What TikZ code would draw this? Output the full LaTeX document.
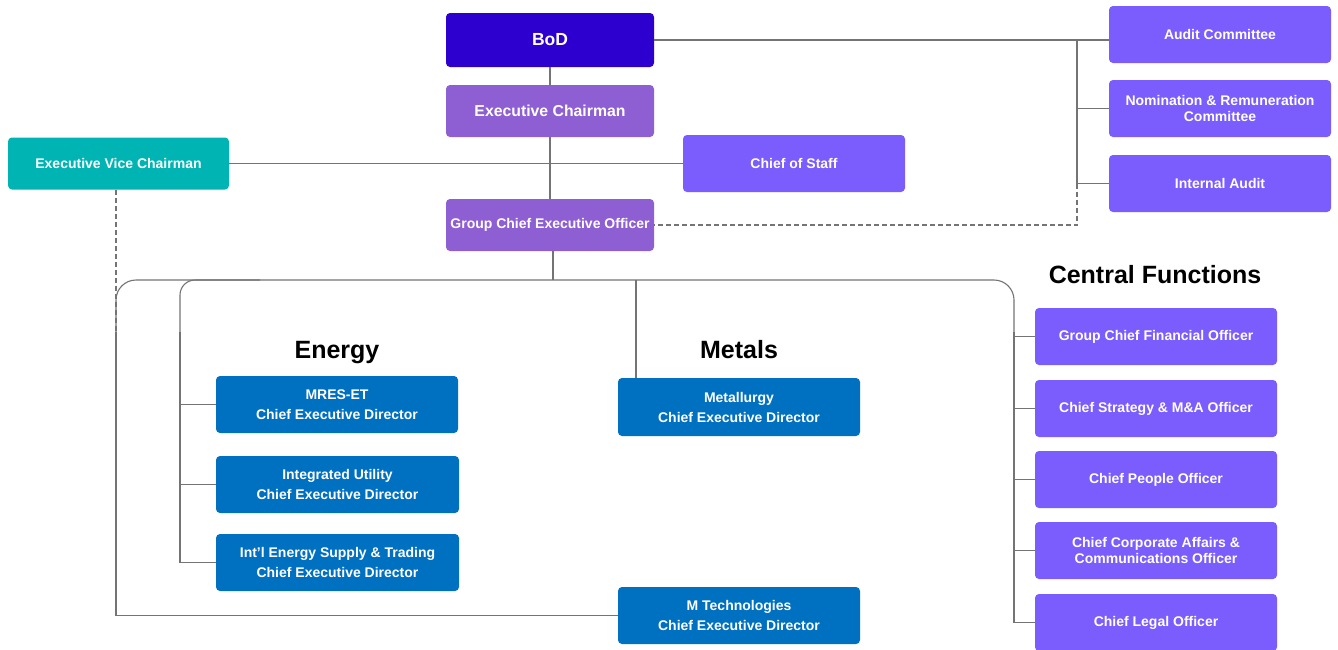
\documentclass[tikz,border=0pt]{standalone}
\usepackage{fontspec}
\setmainfont{Liberation Sans}
\definecolor{bodc}{HTML}{2E00D0}
\definecolor{execc}{HTML}{8E5FD3}
\definecolor{purp}{HTML}{7B5CFC}
\definecolor{tealc}{HTML}{00B4B4}
\definecolor{bluec}{HTML}{0070C0}
\definecolor{linec}{HTML}{747474}
\begin{document}
\begin{tikzpicture}[x=1pt,y=-1pt,
  box/.style={rectangle, rounded corners=4pt, inner sep=0pt, align=center, text=white,
    font=\fontsize{14}{20}\selectfont\bfseries},
  exec/.style={box, fill=execc, minimum width=208pt, minimum height=52pt},
  pbox/.style={box, fill=purp, minimum width=222pt, minimum height=57pt},
  cbox/.style={box, fill=purp, minimum width=242pt, minimum height=57pt},
  bbox/.style={box, fill=bluec, minimum width=242pt, minimum height=57pt},
  title/.style={font=\fontsize{25}{30}\selectfont\bfseries, text=black, inner sep=0pt, anchor=base},
  conn/.style={draw=linec, line width=1.1pt},
  dconn/.style={conn, dash pattern=on 5pt off 3pt}]
\useasboundingbox (0,0) rectangle (1338,649);
\fill[white] (0,0) rectangle (1338,649);

% top
\node[box, fill=bodc, minimum width=208pt, minimum height=54pt, font=\fontsize{17.5}{20}\selectfont\bfseries] (bod) at (550,40) {BoD};
\node[exec, font=\fontsize{15.8}{20}\selectfont\bfseries] (ec) at (550,111) {Executive Chairman};
\node[exec] (gceo) at (550,225) {Group Chief Executive Officer};
\node[pbox] (cos) at (794,163.5) {Chief of Staff};
\node[box, fill=tealc, minimum width=221pt, minimum height=52pt] (evc) at (118.5,163.5) {Executive Vice Chairman};

% committees
\node[pbox] (audit) at (1220,34.5) {Audit Committee};
\node[pbox, font=\fontsize{14}{16}\selectfont\bfseries] (nom) at (1220,108.5) {Nomination \& Remuneration\\Committee};
\node[pbox] (ia) at (1220,183.5) {Internal Audit};

% central functions
\node[title] (cft) at (1155,283) {Central Functions};
\node[cbox] (gcfo) at (1156,336.5) {Group Chief Financial Officer};
\node[cbox] (cso) at (1156,408.5) {Chief Strategy \& M\&A Officer};
\node[cbox] (cpo) at (1156,479.5) {Chief People Officer};
\node[cbox, font=\fontsize{14}{15.5}\selectfont\bfseries] (cca) at (1156,550.5) {Chief Corporate Affairs \&\\Communications Officer};
\node[cbox] (clo) at (1156,622.5) {Chief Legal Officer};

% energy / metals
\node[title] (ent) at (337,358) {Energy};
\node[title] (mett) at (739,358) {Metals};
\node[bbox] (mres) at (337,404.5) {MRES-ET\\Chief Executive Director};
\node[bbox, minimum width=243pt] (iu) at (337.5,484.5) {Integrated Utility\\Chief Executive Director};
\node[bbox, minimum width=243pt] (ies) at (337.5,562.5) {Int'l Energy Supply \& Trading\\Chief Executive Director};
\node[bbox, minimum height=58pt] (met) at (739,407) {Metallurgy\\Chief Executive Director};
\node[bbox] (mtech) at (739,615.5) {M Technologies\\Chief Executive Director};

% coordinates
\coordinate (busT) at (1077,40);
\coordinate (lb) at (116,332);
\coordinate (rb) at (1014,332);
\coordinate (ib) at (180,332);
\coordinate (mtop) at (636,280);
\coordinate (gtop) at (553,280);

% connectors
\draw[conn] (bod) -- (ec);
\draw[conn] (ec) -- (gceo);
\draw[conn] (evc) -- (cos);
\draw[conn] (bod.east) -- (audit.west |- bod.east);
\draw[conn] (busT) -- (busT |- ia.west);
\draw[conn] (nom.west) -- (nom.west -| busT);
\draw[conn] (ia.west) -- (ia.west -| busT);
\draw[dconn] (ia.west -| busT) |- (gceo.east);
\draw[conn] (gceo.south -| gtop) -- (gtop);

\draw[conn, rounded corners=20pt] (lb) |- (gtop) -| (rb);
\draw[conn] (lb) |- (mtech.west);
\draw[conn] (rb) |- (clo.west);
\foreach \n in {gcfo,cso,cpo,cca} \draw[conn] (\n.west) -- (\n.west -| rb);

\draw[conn] (ies.west) -| (ib);
\draw[conn, rounded corners=15pt] (ib) |- (260,280);
\foreach \n in {mres,iu} \draw[conn] (\n.west) -- (\n.west -| ib);

\draw[conn] (mtop) -- (mtop |- met.north);
\draw[dconn] (evc.south -| lb) -- (lb);
\end{tikzpicture}
\end{document}
